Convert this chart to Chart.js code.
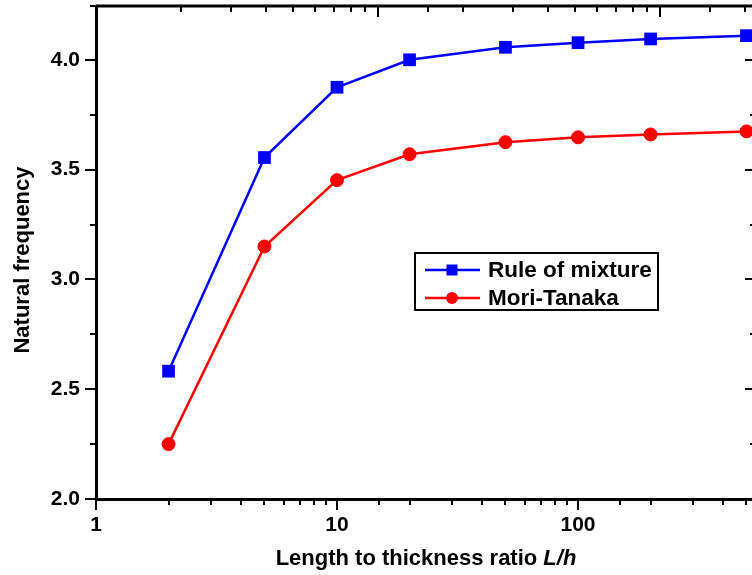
<!DOCTYPE html>
<html>
<head>
<meta charset="utf-8">
<script src="https://cdn.jsdelivr.net/npm/chart.js@4.4.1/dist/chart.umd.min.js"></script>
<style>
  html, body { margin: 0; padding: 0; background: #fff; overflow: hidden; }
  #wrap { width: 752px; height: 575px; }
</style>
</head>
<body>
<div id="wrap"><canvas id="freqChart"></canvas></div>
<script>
// Length to thickness ratio vs natural frequency
const ratios = [2, 5, 10, 20, 50, 100, 200, 500];
const ruleOfMixture = [2.582, 3.555, 3.875, 4.0, 4.057, 4.078, 4.095, 4.110];
const moriTanaka = [2.250, 3.150, 3.452, 3.570, 3.625, 3.647, 3.660, 3.674];
const xMajorTicks = [1, 10, 100];
const yMajorTicks = [2.0, 2.5, 3.0, 3.5, 4.0];

const tickFont = { family: 'Liberation Sans, Arial, sans-serif', size: 21, weight: 'bold' };

function isMajorY(v) {
    return yMajorTicks.some(t => Math.abs(t - v) < 1e-6);
}
function isMajorX(v) {
    return xMajorTicks.some(t => Math.abs(t - v) < 1e-6);
}

// draws axis ticks, top frame, axis titles and the boxed legend
// (the right axis line itself sits just past the canvas edge, only its ticks show)
const framePlugin = {
    id: 'frame',
    afterDraw(chart) {
        const c = chart.ctx;
        const a = chart.chartArea;
        const x = chart.scales.x, y = chart.scales.y, x2 = chart.scales.x2;
        const rightEdge = a.right + 3;
        c.save();
        c.strokeStyle = '#000';
        c.lineWidth = 3;
        c.beginPath();
        c.moveTo(a.left, a.top); c.lineTo(a.right, a.top);
        c.stroke();

        c.lineWidth = 2;
        c.beginPath();
        y.ticks.forEach(t => {
            const py = Math.round(y.getPixelForValue(t.value));
            const major = isMajorY(t.value);
            c.moveTo(a.left, py); c.lineTo(a.left - (major ? 11 : 6), py);
            c.moveTo(rightEdge, py); c.lineTo(rightEdge - (major ? 10 : 5), py);
        });
        x.ticks.forEach(t => {
            if (t.value < 1 || t.value > 520) return;
            const px = Math.round(x.getPixelForValue(t.value));
            const len = isMajorX(t.value) ? 11 : 6;
            c.moveTo(px, a.bottom); c.lineTo(px, a.bottom + len);
        });
        x2.ticks.forEach(t => {
            const px = Math.round(x2.getPixelForValue(t.value));
            if (px > a.right - 2 || px < a.left + 2) return;
            const len = isMajorX(t.value) ? 11 : 6;
            c.moveTo(px, a.top); c.lineTo(px, a.top + len);
        });
        c.stroke();

        // x axis title with italic L/h
        const part1 = 'Length to thickness ratio ';
        const part2 = 'L/h';
        const f1 = 'bold 22px "Liberation Sans", Arial, sans-serif';
        const f2 = 'italic bold 22px "Liberation Sans", Arial, sans-serif';
        c.font = f1;
        const w1 = c.measureText(part1).width;
        c.font = f2;
        const w2 = c.measureText(part2).width;
        const sx = 426 - (w1 + w2) / 2;
        c.fillStyle = '#000';
        c.textBaseline = 'alphabetic';
        c.textAlign = 'left';
        c.font = f1;
        c.fillText(part1, sx, 565);
        c.font = f2;
        c.fillText(part2, sx + w1, 565);

        // y axis title
        c.save();
        c.translate(29, 260);
        c.rotate(-Math.PI / 2);
        c.textAlign = 'center';
        c.font = 'bold 22px "Liberation Sans", Arial, sans-serif';
        c.fillText('Natural frequency', 0, 0);
        c.restore();

        // legend
        const lx = 415, ly = 253, lw = 243, lh = 57;
        c.lineWidth = 2;
        c.strokeStyle = '#000';
        c.fillStyle = '#fff';
        c.fillRect(lx, ly, lw, lh);
        c.strokeRect(lx, ly, lw, lh);
        const items = [
            { label: 'Rule of mixture', color: '#0000ff', shape: 'rect' },
            { label: 'Mori-Tanaka', color: '#ff0000', shape: 'circle' }
        ];
        c.font = 'bold 22.5px "Liberation Sans", Arial, sans-serif';
        c.textBaseline = 'middle';
        items.forEach((it, i) => {
            const cy = ly + 17 + i * 28;
            c.strokeStyle = it.color;
            c.lineWidth = 2.5;
            c.beginPath();
            c.moveTo(lx + 10, cy); c.lineTo(lx + 65, cy);
            c.stroke();
            c.fillStyle = it.color;
            if (it.shape === 'rect') {
                c.fillRect(lx + 37 - 5.5, cy - 5.5, 11, 11);
            } else {
                c.beginPath();
                c.arc(lx + 37, cy, 6, 0, Math.PI * 2);
                c.fill();
            }
            c.fillStyle = '#000';
            c.fillText(it.label, lx + 73, cy + 1);
        });
        c.restore();
    }
};

new Chart(document.getElementById('freqChart'), {
    type: 'line',
    data: {
        datasets: [{
            label: 'Rule of mixture',
            data: ratios.map((r, i) => ({ x: r, y: ruleOfMixture[i] })),
            borderColor: '#0000ff',
            backgroundColor: '#0000ff',
            borderWidth: 2.5,
            pointStyle: 'rect',
            pointRadius: 9,
            pointHoverRadius: 9,
            pointBorderWidth: 0,
            tension: 0,
            clip: false
        }, {
            label: 'Mori-Tanaka',
            data: ratios.map((r, i) => ({ x: r, y: moriTanaka[i] })),
            borderColor: '#ff0000',
            backgroundColor: '#ff0000',
            borderWidth: 2.5,
            pointStyle: 'circle',
            pointRadius: 6.5,
            pointHoverRadius: 6.5,
            pointBorderWidth: 1,
            tension: 0,
            clip: false
        }]
    },
    options: {
        responsive: true,
        maintainAspectRatio: false,
        animation: false,
        layout: { autoPadding: false, padding: { top: 6, right: 0, left: 0, bottom: 0 } },
        plugins: {
            legend: { display: false },
            tooltip: { enabled: false }
        },
        scales: {
            x: {
                type: 'logarithmic',
                position: 'bottom',
                min: 1,
                max: 527,
                grid: { display: false },
                border: { display: true, color: '#000', width: 3 },
                ticks: {
                    color: '#000',
                    font: tickFont,
                    autoSkip: false,
                    maxRotation: 0,
                    padding: 6,
                    callback: v => isMajorX(v) ? String(v) : ''
                },
                afterFit: s => {
                    s.height = 76;
                    s.paddingLeft = 0; s.paddingRight = 0;
                }
            },
            x2: {
                type: 'logarithmic',
                position: 'top',
                min: 1,
                max: 212,
                grid: { display: false },
                border: { display: false },
                ticks: { display: false, autoSkip: false },
                afterFit: s => {
                    s.height = 0;
                    s.paddingLeft = 0; s.paddingRight = 0;
                }
            },
            y: {
                min: 2.0,
                max: 4.245,
                grid: { display: false },
                border: { display: true, color: '#000', width: 3 },
                ticks: {
                    stepSize: 0.25,
                    color: '#000',
                    font: tickFont,
                    padding: 8,
                    callback: v => isMajorY(v) ? v.toFixed(1) : ''
                },
                afterFit: s => {
                    s.width = 96;
                    s.paddingTop = 0; s.paddingBottom = 0;
                }
            }
        }
    },
    plugins: [framePlugin]
});
</script>
</body>
</html>
